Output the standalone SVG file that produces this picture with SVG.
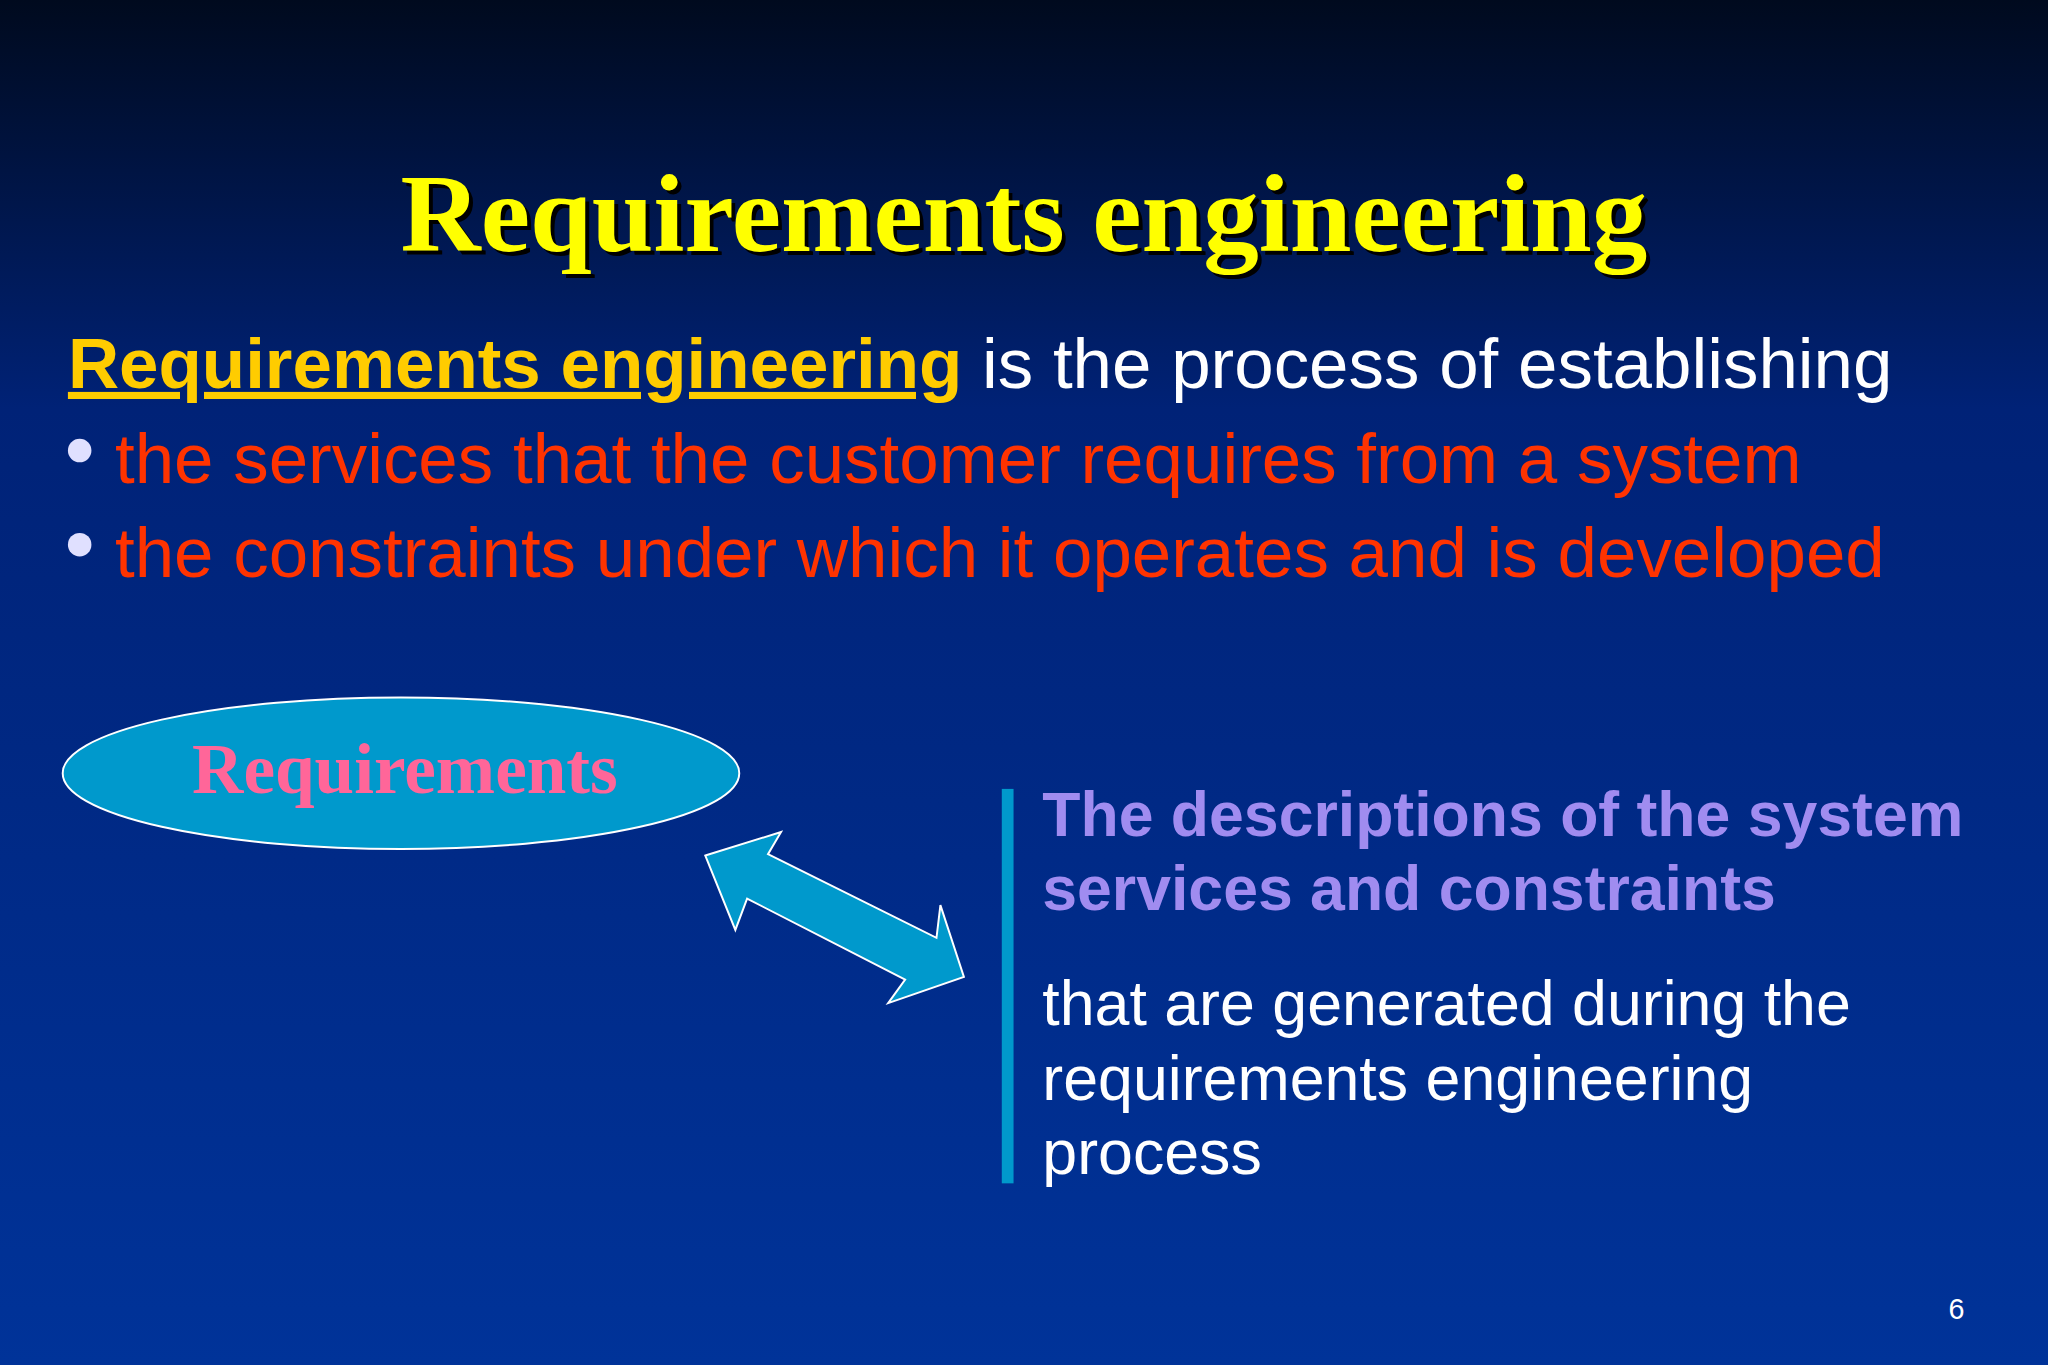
<svg xmlns="http://www.w3.org/2000/svg" width="2048" height="1365" viewBox="0 0 2048 1365">
<defs>
<linearGradient id="bg" x1="0" y1="0" x2="0" y2="1">
<stop offset="0" stop-color="#000a1e"/>
<stop offset="0.3" stop-color="#002277"/>
<stop offset="1" stop-color="#003399"/>
</linearGradient>
<style>
.s{font-family:"Liberation Sans",Arial,sans-serif}
.r{fill:#FF3300;font-size:54.3px}
.p{fill:#A08CF0;font-size:47.9px;font-weight:bold}
.w{fill:#FFFFFF;font-size:48px}
</style>
</defs>
<rect width="2048" height="1365" fill="url(#bg)"/>
<g transform="scale(1.30612)">
<g id="title">
<text x="787" y="195" text-anchor="middle" font-family="Liberation Serif,serif" font-weight="bold" font-size="85" fill="#000">Requirements engineering</text>
<text x="784" y="192" text-anchor="middle" font-family="Liberation Serif,serif" font-weight="bold" font-size="85" fill="#FFFF00">Requirements engineering</text>
</g>
<g id="definition">
<text class="s" x="52" y="297" font-size="54.3" fill="#FFFFFF"><tspan fill="#FFCC00" font-weight="bold" text-decoration="underline">Requirements engineering</tspan> is the process of establishing</text>
<circle cx="61" cy="345" r="9" fill="#E0E0FF"/>
<text class="s r" x="88" y="370">the services that the customer requires from a system</text>
<circle cx="61" cy="417" r="9" fill="#E0E0FF"/>
<text class="s r" x="88" y="442">the constraints under which it operates and is developed</text>
</g>
<g id="requirements">
<ellipse cx="307" cy="592" rx="259" ry="58" fill="#0099CC" stroke="#FFFFFF" stroke-width="1.5"/>
<text x="310" y="607" text-anchor="middle" font-family="Liberation Serif,serif" font-weight="bold" font-size="54.5" fill="#FF6699">Requirements</text>
</g>
<g id="connectors">
<polygon points="540,655 598,637 588,654 717,718 720,693 738,748 680,768 693,750 572,688 563,712" fill="#0099CC" stroke="#FFFFFF" stroke-width="1.5"/>
</g>
<g id="description">
<rect x="767" y="604" width="9" height="302" fill="#0099CC"/>
<text class="s p" x="798" y="640">The descriptions of the system</text>
<text class="s p" x="798" y="697">services and constraints</text>
<text class="s w" x="798" y="785">that are generated during the</text>
<text class="s w" x="798" y="842">requirements engineering</text>
<text class="s w" x="798" y="899">process</text>
</g>
<text class="s" x="1498" y="1010" text-anchor="middle" font-size="22" fill="#FFFFFF">6</text>
</g>
</svg>
